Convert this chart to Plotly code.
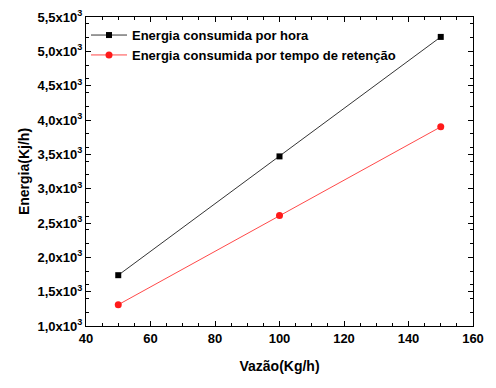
import plotly.graph_objects as go

vazao = [50, 100, 150]
energia_hora = [1740, 3470, 5210]
energia_retencao = [1310, 2610, 3900]
y_ticks = [1000, 1500, 2000, 2500, 3000, 3500, 4000, 4500, 5000, 5500]
y_ticktext = ["1,0x10<sup>3</sup>", "1,5x10<sup>3</sup>", "2,0x10<sup>3</sup>", "2,5x10<sup>3</sup>",
              "3,0x10<sup>3</sup>", "3,5x10<sup>3</sup>", "4,0x10<sup>3</sup>", "4,5x10<sup>3</sup>",
              "5,0x10<sup>3</sup>", "5,5x10<sup>3</sup>"]
x_ticks = [40, 60, 80, 100, 120, 140, 160]

FONT = "Liberation Sans, Arial"

fig = go.Figure()
fig.add_trace(go.Scatter(x=vazao, y=energia_hora, mode="lines+markers",
                         name="<b>Energia consumida por hora</b>",
                         line=dict(color="black", width=0.8),
                         marker=dict(symbol="square", size=6, color="black")))
fig.add_trace(go.Scatter(x=vazao, y=energia_retencao, mode="lines+markers",
                         name="<b>Energia consumida por tempo de retenção</b>",
                         line=dict(color="#ff1a1a", width=0.8),
                         marker=dict(symbol="circle", size=7, color="#ff1a1a")))

axis_common = dict(showline=True, linecolor="black", linewidth=1.2, mirror="allticks",
                   ticks="inside", ticklen=5, tickwidth=1, tickcolor="black",
                   showgrid=False, zeroline=False, automargin=False,
                   tickfont=dict(family=FONT, size=13, color="black"),
                   minor=dict(ticks="inside", ticklen=3, tickcolor="black", tickwidth=1))

fig.update_xaxes(range=[40, 160], tickvals=x_ticks, ticktext=[f"<b>{v}</b>" for v in x_ticks],
                 title=dict(text="<b>Vazão(Kg/h)</b>", font=dict(family=FONT, size=14, color="black"), standoff=16),
                 **axis_common)
fig.update_yaxes(range=[1000, 5500], tickvals=y_ticks, ticktext=[f"<b>{t}</b>" for t in y_ticktext],
                 title=dict(text="<b>Energia(Kj/h)</b>", font=dict(family=FONT, size=14, color="black"), standoff=4),
                 **axis_common)

fig.update_layout(width=496, height=388, margin=dict(l=86, r=23, t=17, b=62, autoexpand=False),
                  paper_bgcolor="white", plot_bgcolor="white",
                  font=dict(family=FONT, color="black"),
                  legend=dict(x=0.0, y=0.99, xanchor="left", yanchor="top", bgcolor="rgba(0,0,0,0)",
                              font=dict(family=FONT, size=13, color="black"),
                              tracegroupgap=0, itemwidth=36),
                  showlegend=True)

fig.write_html("out.html", config={"displayModeBar": False},
               post_script="document.body.style.margin='0';")
